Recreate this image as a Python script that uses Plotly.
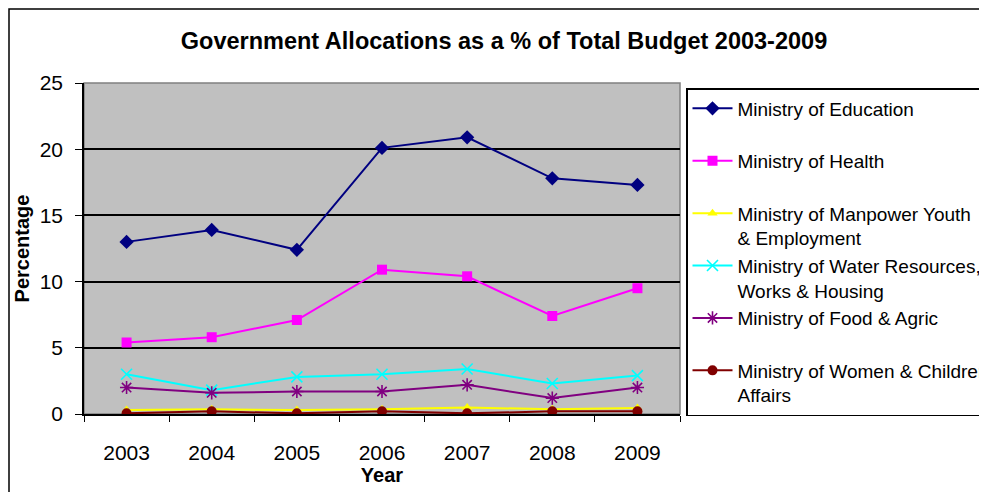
import plotly.graph_objects as go

years = ["2003", "2004", "2005", "2006", "2007", "2008", "2009"]
education = [13.0, 13.9, 12.4, 20.1, 20.9, 17.8, 17.3]
health = [5.4, 5.8, 7.1, 10.9, 10.4, 7.4, 9.5]
manpower = [0.3, 0.35, 0.3, 0.35, 0.5, 0.35, 0.45]
water = [3.0, 1.8, 2.8, 3.0, 3.4, 2.3, 2.9]
food = [2.0, 1.6, 1.7, 1.7, 2.2, 1.2, 2.0]
women = [0.05, 0.2, 0.05, 0.2, 0.05, 0.2, 0.2]

names = [
    "Ministry of Education<br> ",
    "Ministry of Health<br> ",
    "Ministry of Manpower Youth<br>& Employment",
    "Ministry of Water Resources,<br>Works & Housing",
    "Ministry of Food & Agric<br> ",
    "Ministry of Women & Children<br>Affairs",
]
series = [education, health, manpower, water, food, women]
colors = ["#000080", "#FF00FF", "#FFFF00", "#00FFFF", "#800080", "#800000"]
symbols = ["diamond", "square", "triangle-up", "x-thin-open", "asterisk-open", "circle"]
sizes = [11, 10, 9, 11, 11, 10]

W, H = 987, 492
# plot area in figure pixel coordinates (page has 8px body margin)
L, R, T, B = 76, 672, 75, 406
pw, ph = R - L, B - T

def px(x):
    return (x - L) / pw

def py(y):
    return (B - y) / ph

fig = go.Figure()
for i, (nm, vals, c, s, sz) in enumerate(zip(names, series, colors, symbols, sizes)):
    line_marker = s in ("x-thin-open", "asterisk-open")
    fig.add_trace(go.Scatter(
        x=years, y=vals, name=nm, mode="lines+markers",
        legendgroup=str(i),
        line=dict(color=c, width=2),
        marker=dict(symbol=s, size=sz, color=c,
                    line=dict(color=c, width=1.6 if line_marker else 0)),
    ))

fig.update_layout(
    width=W, height=H,
    margin=dict(l=L, r=W - R, t=T, b=H - B, autoexpand=False),
    paper_bgcolor="white",
    plot_bgcolor="#C0C0C0",
    font=dict(family="Liberation Sans, Arial, sans-serif", color="black"),
    title=dict(text="<b>Government Allocations as a % of Total Budget 2003-2009</b>",
               x=496 / W, xanchor="center", y=1 - 33 / H, yanchor="middle",
               font=dict(size=23.5)),
    showlegend=True,
    legend=dict(x=px(678), y=py(80), xanchor="left", yanchor="top",
                bgcolor="white", bordercolor="black", borderwidth=1.5,
                font=dict(size=19), tracegroupgap=0, valign="top",
                itemwidth=40),
    xaxis=dict(type="category", showgrid=False, showline=True, linecolor="black",
               linewidth=1.5, ticks="outside", tickson="boundaries", ticklen=6,
               tickcolor="black", tickfont=dict(size=21), ticklabelstandoff=19,
               title=dict(text="<b>Year</b>", font=dict(size=20), standoff=0),
               range=[-0.5, 6.5]),
    yaxis=dict(range=[0, 25], dtick=5, showgrid=True, gridcolor="black", gridwidth=2,
               showline=True, linecolor="black", linewidth=1.5, ticks="outside",
               ticklen=7, tickcolor="black", tickfont=dict(size=21), zeroline=False,
               ticklabelstandoff=8,
               title=dict(text="<b>Percentage</b>", font=dict(size=20), standoff=5)),
    shapes=[
        dict(type="rect", xref="paper", yref="paper", x0=0, x1=1, y0=0, y1=1,
             line=dict(color="#808080", width=1.5), layer="below"),
        dict(type="rect", xref="paper", yref="paper", x0=px(1), x1=px(1100),
             y0=py(600), y1=py(1), line=dict(color="black", width=1.5), layer="below"),
    ],
)

fig.write_html("out.html")
